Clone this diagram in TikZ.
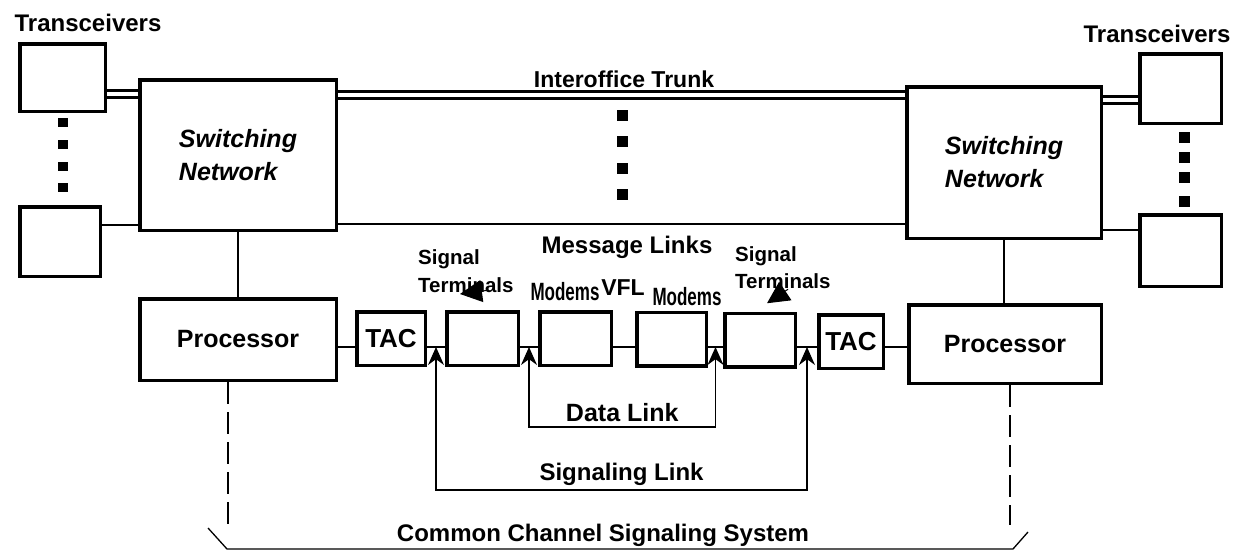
\documentclass[tikz,border=0pt]{standalone}
\usepackage{fontspec}
\setmainfont{Liberation Sans}
\usetikzlibrary{arrows.meta, positioning, calc}

\begin{document}
\begin{tikzpicture}[x=1pt, y=-1pt,
    box/.style={rectangle, draw, line width=3.5pt, inner sep=0pt},
    unit/.style={box, minimum width=70pt, minimum height=53.5pt},
    wire/.style={line width=2.4pt},
    trunk/.style={double, double distance=4pt, line width=2.6pt},
    link/.style={line width=1.3pt, {Stealth[length=18pt,width=16pt]}-{Stealth[length=18pt,width=16pt]}},
    ccs/.style={line width=1.3pt, dash pattern=on 22pt off 8pt},
    lbl/.style={inner sep=0pt, font=\fontsize{24}{28}\selectfont\bfseries},
    small/.style={inner sep=0pt, align=left, font=\fontsize{20.5}{28}\selectfont\bfseries},
    pointer/.style={line width=1pt, -{Triangle[length=22pt,width=22pt]}}
]
\useasboundingbox[fill=white] (0,0) rectangle (1254,554);

% Left office
\node[box, minimum width=85.5pt, minimum height=67.5pt] (tl1) at (62.5,77.5) {};
\node[box, minimum width=80.5pt, minimum height=69.5pt] (tl2) at (60,241.5) {};
\node[box, minimum width=196.5pt, minimum height=150.5pt, align=left,
      font=\fontsize{25}{33}\selectfont\bfseries\itshape] (sn1) at (238,155) {Switching\\Network};
\node[box, minimum width=196.5pt, minimum height=81.5pt, font=\fontsize{25}{28}\selectfont\bfseries] (pr1) at (238,339.5) {Processor};
\node[lbl] (txl) at (88,22.5) {Transceivers};

% Right office
\node[box, minimum width=81.5pt, minimum height=69.5pt] (tr1) at (1180.5,88.5) {};
\node[box, minimum width=81.5pt, minimum height=71.5pt] (tr2) at (1180.5,250.5) {};
\node[box, minimum width=194.5pt, minimum height=151.5pt, align=left,
      font=\fontsize{25}{33}\selectfont\bfseries\itshape] (sn2) at (1004,162.5) {Switching\\Network};
\node[box, minimum width=192.5pt, minimum height=78.5pt, font=\fontsize{25}{28}\selectfont\bfseries] (pr2) at (1005,344) {Processor};
\node[lbl] (txr) at (1157,33.5) {Transceivers};

% Signalling chain
\node[unit, minimum width=68.5pt, font=\fontsize{26}{28}\selectfont\bfseries] (tac1) at (391,338.5) {TAC};
\node[unit, minimum width=71.5pt] (st1) at (482.5,338.5) {};
\node[unit, minimum width=71.5pt] (m1) at (575.5,338.5) {};
\node[unit, minimum width=69.5pt] (m2) at (671.5,339) {};
\node[unit, minimum width=70.5pt] (st2) at (760,340) {};
\node[unit, minimum width=64.5pt, font=\fontsize{26}{28}\selectfont\bfseries] (tac2) at (851,341.5) {TAC};

% Line levels
\coordinate (trkL) at (0,94);
\coordinate (trkM) at (0,95);
\coordinate (trkR) at (0,100);
\coordinate (msgL) at (0,225);
\coordinate (msgM) at (0,224);
\coordinate (msgR) at (0,230);
\coordinate (bus) at (0,347);
\coordinate (dlbot) at (0,427);
\coordinate (slbot) at (0,490);
\coordinate (ccsend) at (0,525);

% Trunks and message links
\draw[trunk] (tl1.east |- trkL) -- (sn1.west |- trkL);
\draw[trunk] (sn1.east |- trkM) -- (sn2.west |- trkM);
\draw[trunk] (sn2.east |- trkR) -- (tr1.west |- trkR);
\draw[wire] (tl2.east |- msgL) -- (sn1.west |- msgL);
\draw[wire] (sn1.east |- msgM) -- (sn2.west |- msgM);
\draw[wire] (sn2.east |- msgR) -- (tr2.west |- msgR);
\draw[wire] (sn1.south) -- (pr1.north);
\draw[wire] (sn2.south) -- (sn2.south |- pr2.north);

\node[lbl, anchor=base, font=\fontsize{23}{28}\selectfont\bfseries] (trunklbl) at (624,87) {Interoffice Trunk};
\node[lbl, anchor=base] (msglbl) at (627,253) {Message Links};

% Dots
\foreach \y in {122.5,144,166,187}
  \fill (57.5,\y-4.5) rectangle ++(10,9);
\foreach \y in {115,141.5,168,194.5}
  \fill (616.5,\y-5.5) rectangle ++(11,11);
\foreach \y in {137.5,157.5,177.5,201.5}
  \fill (1178.5,\y-5.5) rectangle ++(11,11);

% Bus between processors
\foreach \a/\b in {pr1/tac1, tac1/st1, st1/m1, m1/m2, m2/st2, st2/tac2, tac2/pr2}
  \draw[wire] (\a.east |- bus) -- (\b.west |- bus);

% Labels of the chain
\node[small, anchor=south west] (stl1) at (418,293) {Signal\\Terminals};
\node[small, anchor=south west, font=\fontsize{20.5}{27}\selectfont\bfseries] (stl2) at (735,289) {Signal\\Terminals};
\node[lbl, xscale=0.68, font=\fontsize{25}{28}\selectfont\bfseries] (mdl1) at (565,292) {Modems};
\node[lbl, xscale=0.68, font=\fontsize{25}{28}\selectfont\bfseries] (mdl2) at (687,297) {Modems};
\node[lbl, font=\fontsize{23}{28}\selectfont\bfseries] (vfl) at (623,288) {VFL};
\draw[pointer] ([xshift=5.5pt, yshift=19.75pt]st1.north) -- ([xshift=-22.5pt, yshift=16pt]st1.north);
\draw[pointer] ([xshift=28pt, yshift=22.25pt]st2.north) -- ([xshift=7pt, yshift=8.25pt]st2.north);

% Data link and signalling link
\coordinate (dl1) at ($(st1.east)!0.5!(m1.west)$);
\coordinate (dl2) at ($(m2.east)!0.5!(st2.west)$);
\coordinate (sl1) at ($(tac1.east)!0.5!(st1.west)$);
\coordinate (sl2) at ($(st2.east)!0.5!(tac2.west)$);
\draw[link] (dl1 |- bus) -- (dl1 |- dlbot) -- node[lbl, above=5pt, font=\fontsize{25}{28}\selectfont\bfseries] (dltxt) {Data Link} (dl2 |- dlbot) -- (dl2 |- bus);
\draw[link] (sl1 |- bus) -- (sl1 |- slbot) -- node[lbl, above=4pt] (sltxt) {Signaling Link} (sl2 |- slbot) -- (sl2 |- bus);

% Common channel signalling system
\draw[ccs] ([xshift=-10pt]pr1.south) -- ([xshift=-10pt]pr1.south |- ccsend);
\draw[ccs] ([xshift=5pt]pr2.south) -- ([xshift=5pt]pr2.south |- ccsend);
\draw[line width=1.3pt] (208,528) -- (227,549) -- (1013,549) -- (1028,532);
\node[lbl] (ccstxt) at (603,535) {Common Channel Signaling System};

\end{tikzpicture}
\end{document}
